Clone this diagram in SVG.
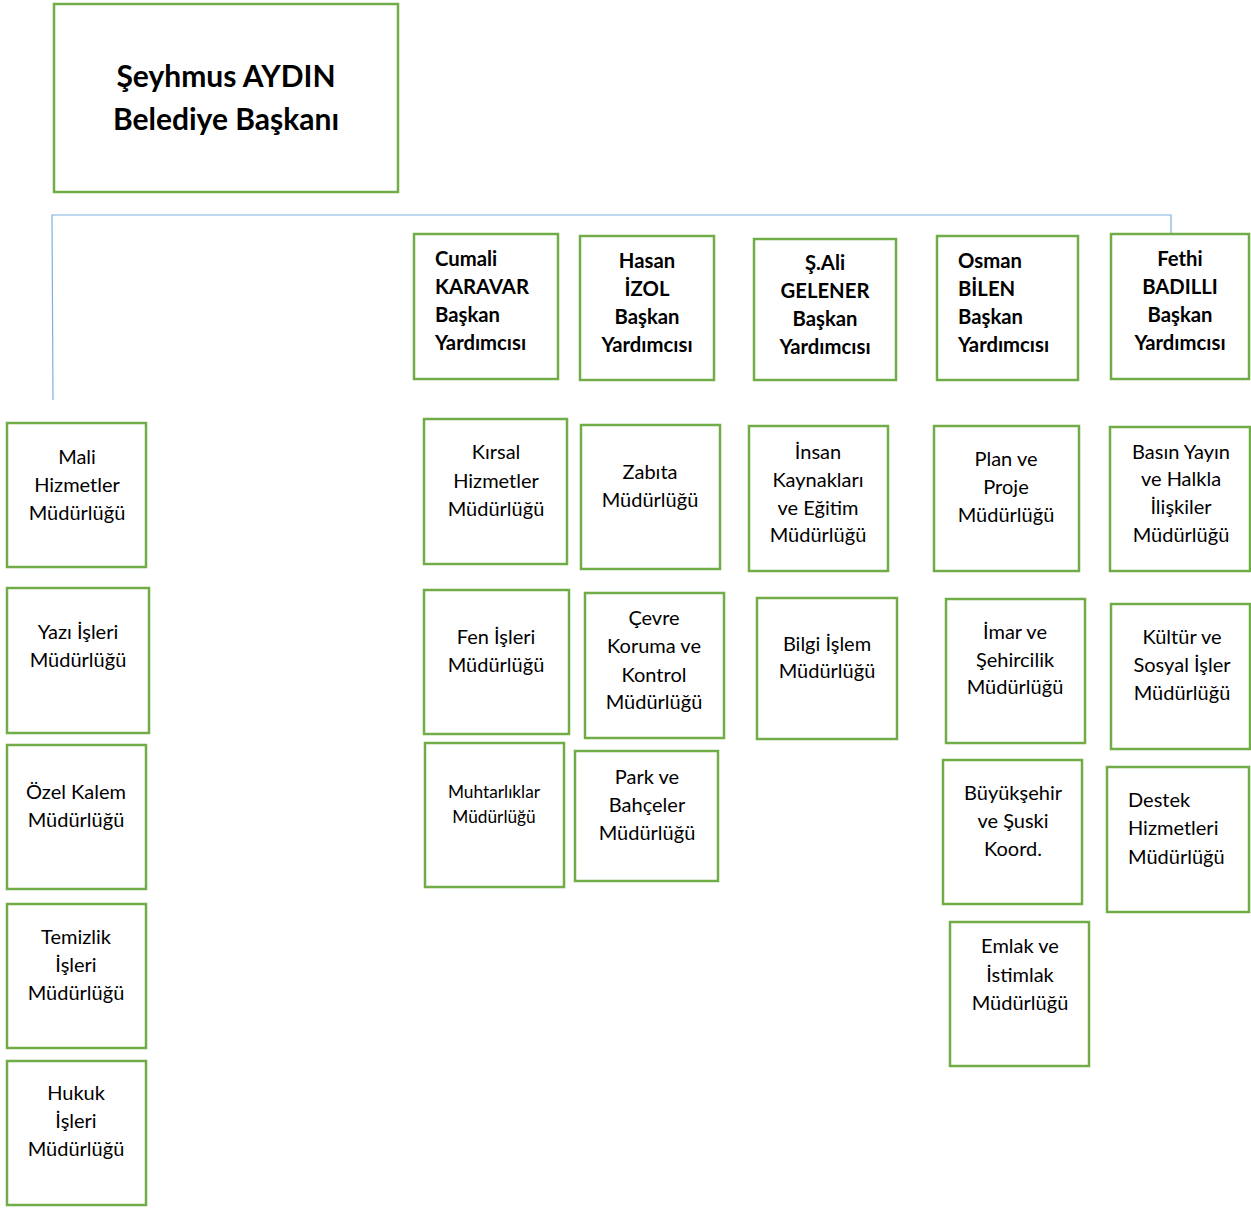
<svg xmlns="http://www.w3.org/2000/svg" width="1251" height="1208" viewBox="0 0 1251 1208">
<style>
.box{fill:#fff;stroke:#70AD47;stroke-width:2.5}
.t{font-family:Lato,"Noto Sans","Liberation Sans",sans-serif;font-size:20px;fill:#000;text-anchor:middle}
.l{text-anchor:start}
.b{font-weight:bold;font-size:20.3px}
.s{font-size:17.3px}
.h{font-family:Lato,"Noto Sans","Liberation Sans",sans-serif;font-size:30px;font-weight:bold;fill:#000;text-anchor:middle}
.c{fill:none;stroke:#7EB0DF;stroke-width:1.2}
</style>
<rect width="1251" height="1208" fill="#fff"/>
<g id="connectors">
<polyline class="c" points="53,400 52,215 1171,215 1171,234"/>
</g>
<g id="mayor">
<rect class="box" x="54" y="4" width="344" height="188"/>
<text class="h"><tspan x="226" y="87">Şeyhmus AYDIN</tspan><tspan x="226" y="130">Belediye Başkanı</tspan></text>
</g>
<g id="vp-cumali">
<rect class="box" x="414" y="234" width="144" height="145"/>
<text class="t b l"><tspan x="435" y="266">Cumali</tspan><tspan x="435" y="294">KARAVAR</tspan><tspan x="435" y="322">Başkan</tspan><tspan x="435" y="350">Yardımcısı</tspan></text>
</g>
<g id="vp-hasan">
<rect class="box" x="580" y="236" width="134" height="144"/>
<text class="t b"><tspan x="647" y="268">Hasan</tspan><tspan x="647" y="296">İZOL</tspan><tspan x="647" y="324">Başkan</tspan><tspan x="647" y="352">Yardımcısı</tspan></text>
</g>
<g id="vp-sali">
<rect class="box" x="754" y="239" width="142" height="141"/>
<text class="t b"><tspan x="825" y="270">Ş.Ali</tspan><tspan x="825" y="298">GELENER</tspan><tspan x="825" y="326">Başkan</tspan><tspan x="825" y="354">Yardımcısı</tspan></text>
</g>
<g id="vp-osman">
<rect class="box" x="937" y="236" width="141" height="144"/>
<text class="t b l"><tspan x="958" y="268">Osman</tspan><tspan x="958" y="296">BİLEN</tspan><tspan x="958" y="324">Başkan</tspan><tspan x="958" y="352">Yardımcısı</tspan></text>
</g>
<g id="vp-fethi">
<rect class="box" x="1111" y="234" width="138" height="145"/>
<text class="t b"><tspan x="1180" y="266">Fethi</tspan><tspan x="1180" y="294">BADILLI</tspan><tspan x="1180" y="322">Başkan</tspan><tspan x="1180" y="350">Yardımcısı</tspan></text>
</g>
<g id="mali">
<rect class="box" x="7" y="423" width="139" height="144"/>
<text class="t"><tspan x="77" y="464">Mali</tspan><tspan x="77" y="492">Hizmetler</tspan><tspan x="77" y="520">Müdürlüğü</tspan></text>
</g>
<g id="yazi">
<rect class="box" x="7" y="588" width="142" height="145"/>
<text class="t"><tspan x="78" y="639">Yazı İşleri</tspan><tspan x="78" y="667">Müdürlüğü</tspan></text>
</g>
<g id="ozel">
<rect class="box" x="7" y="745" width="139" height="144"/>
<text class="t"><tspan x="76" y="799">Özel Kalem</tspan><tspan x="76" y="827">Müdürlüğü</tspan></text>
</g>
<g id="temizlik">
<rect class="box" x="7" y="904" width="139" height="144"/>
<text class="t"><tspan x="76" y="944">Temizlik</tspan><tspan x="76" y="972">İşleri</tspan><tspan x="76" y="1000">Müdürlüğü</tspan></text>
</g>
<g id="hukuk">
<rect class="box" x="7" y="1061" width="139" height="144"/>
<text class="t"><tspan x="76" y="1100">Hukuk</tspan><tspan x="76" y="1128">İşleri</tspan><tspan x="76" y="1156">Müdürlüğü</tspan></text>
</g>
<g id="kirsal">
<rect class="box" x="424" y="419" width="143" height="145"/>
<text class="t"><tspan x="496" y="459">Kırsal</tspan><tspan x="496" y="488">Hizmetler</tspan><tspan x="496" y="516">Müdürlüğü</tspan></text>
</g>
<g id="zabita">
<rect class="box" x="581" y="425" width="139" height="144"/>
<text class="t"><tspan x="650" y="479">Zabıta</tspan><tspan x="650" y="507">Müdürlüğü</tspan></text>
</g>
<g id="fen">
<rect class="box" x="424" y="590" width="145" height="144"/>
<text class="t"><tspan x="496" y="644">Fen İşleri</tspan><tspan x="496" y="672">Müdürlüğü</tspan></text>
</g>
<g id="cevre">
<rect class="box" x="585" y="593" width="139" height="145"/>
<text class="t"><tspan x="654" y="625">Çevre</tspan><tspan x="654" y="653">Koruma ve</tspan><tspan x="654" y="682">Kontrol</tspan><tspan x="654" y="709">Müdürlüğü</tspan></text>
</g>
<g id="muhtarliklar">
<rect class="box" x="425" y="743" width="139" height="144"/>
<text class="t s"><tspan x="494" y="798">Muhtarlıklar</tspan><tspan x="494" y="823">Müdürlüğü</tspan></text>
</g>
<g id="park">
<rect class="box" x="575" y="751" width="143" height="130"/>
<text class="t"><tspan x="647" y="784">Park ve</tspan><tspan x="647" y="812">Bahçeler</tspan><tspan x="647" y="840">Müdürlüğü</tspan></text>
</g>
<g id="insan">
<rect class="box" x="749" y="426" width="139" height="145"/>
<text class="t"><tspan x="818" y="459">İnsan</tspan><tspan x="818" y="487">Kaynakları</tspan><tspan x="818" y="515">ve Eğitim</tspan><tspan x="818" y="542">Müdürlüğü</tspan></text>
</g>
<g id="bilgi">
<rect class="box" x="757" y="598" width="140" height="141"/>
<text class="t"><tspan x="827" y="651">Bilgi İşlem</tspan><tspan x="827" y="678">Müdürlüğü</tspan></text>
</g>
<g id="plan">
<rect class="box" x="934" y="426" width="145" height="145"/>
<text class="t"><tspan x="1006" y="466">Plan ve</tspan><tspan x="1006" y="494">Proje</tspan><tspan x="1006" y="522">Müdürlüğü</tspan></text>
</g>
<g id="imar">
<rect class="box" x="946" y="599" width="139" height="144"/>
<text class="t"><tspan x="1015" y="639">İmar ve</tspan><tspan x="1015" y="667">Şehircilik</tspan><tspan x="1015" y="694">Müdürlüğü</tspan></text>
</g>
<g id="buyuksehir">
<rect class="box" x="943" y="760" width="139" height="144"/>
<text class="t"><tspan x="1013" y="800">Büyükşehir</tspan><tspan x="1013" y="828">ve Şuski</tspan><tspan x="1013" y="856">Koord.</tspan></text>
</g>
<g id="emlak">
<rect class="box" x="950" y="922" width="139" height="144"/>
<text class="t"><tspan x="1020" y="953">Emlak ve</tspan><tspan x="1020" y="982">İstimlak</tspan><tspan x="1020" y="1010">Müdürlüğü</tspan></text>
</g>
<g id="basin">
<rect class="box" x="1110" y="427" width="140" height="144"/>
<text class="t"><tspan x="1181" y="459">Basın Yayın</tspan><tspan x="1181" y="486">ve Halkla</tspan><tspan x="1181" y="514">İlişkiler</tspan><tspan x="1181" y="542">Müdürlüğü</tspan></text>
</g>
<g id="kultur">
<rect class="box" x="1111" y="604" width="139" height="145"/>
<text class="t"><tspan x="1182" y="644">Kültür ve</tspan><tspan x="1182" y="672">Sosyal İşler</tspan><tspan x="1182" y="700">Müdürlüğü</tspan></text>
</g>
<g id="destek">
<rect class="box" x="1107" y="767" width="142" height="145"/>
<text class="t l"><tspan x="1128" y="807">Destek</tspan><tspan x="1128" y="835">Hizmetleri</tspan><tspan x="1128" y="864">Müdürlüğü</tspan></text>
</g>
</svg>
